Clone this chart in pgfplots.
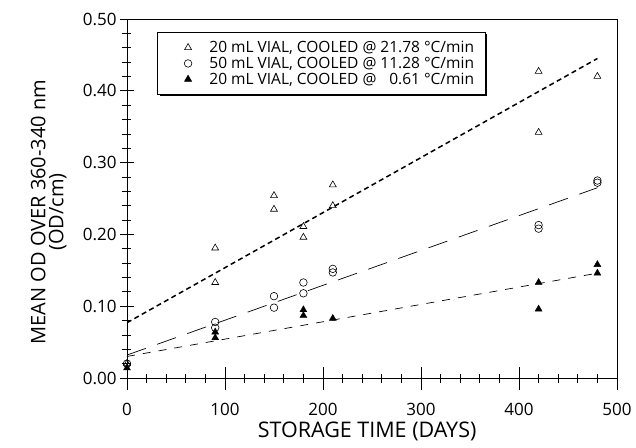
\documentclass[border=0pt]{standalone}
\usepackage{fontspec}
\setmainfont{Open Sans}
\usepackage{pgfplots}
\pgfplotsset{compat=1.18}
\usetikzlibrary{shadows}
\pgfplotsset{myleg/.style={legend image code/.code={\path (0pt,0pt) (25pt,0pt); \draw[##1] plot coordinates {(21pt,0pt)};}}}
\begin{document}
\begin{tikzpicture}
\begin{axis}[
  scale only axis, width=490pt, height=359pt,
  xmin=0, xmax=500, ymin=0, ymax=0.5,
  xtick={0,100,...,500}, ytick={0,0.1,...,0.5},
  minor x tick num=4, minor y tick num=4,
  tick align=center,
  xtick pos=bottom, ytick pos=left,
  major tick length=14pt, minor tick length=9pt,
  xtick style={/pgfplots/major tick length=23pt},
  tick style={black, line width=0.7pt},
  axis line style={line width=0.8pt},
  /pgf/number format/assume math mode=true,
  yticklabel style={/pgf/number format/fixed, /pgf/number format/fixed zerofill, /pgf/number format/precision=2},
  ticklabel style={font=\fontsize{17}{19}\selectfont},
  xticklabel style={yshift=-15pt},
  scaled y ticks=false,
  xlabel={STORAGE TIME (DAYS)},
  ylabel={MEAN OD OVER 360-340 nm\\(OD/cm)},
  xlabel style={font=\fontsize{21.5}{22}\selectfont, at={(axis description cs:0.49,-0.15)}, anchor=center},
  ylabel style={font=\fontsize{20}{18}\selectfont, at={(axis description cs:-0.16,0.462)}, anchor=center, align=center},
  legend style={at={(rel axis cs:0.062,0.963)}, anchor=north west, draw=black, line width=0.7pt,
    fill=white, font=\fontsize{15.5}{16}\selectfont, row sep=-1pt,
    inner xsep=9pt, inner ysep=6.5pt,
    drop shadow={shadow xshift=1.8pt, shadow yshift=-1.8pt, fill=black, opacity=1},
    legend cell align=left},
]
% open triangles: 20 mL vial, 21.78 C/min
\addplot[only marks, mark=triangle, mark size=4pt, mark options={line width=0.6pt, black}, myleg] coordinates {
(0,0.020) (90,0.181) (90,0.133) (150,0.254) (150,0.235) (180,0.211) (180,0.196)
(210,0.269) (210,0.240) (420,0.427) (420,0.342) (480,0.420)};
\addlegendentry{\rule{15pt}{0pt}20 mL VIAL, COOLED @ 21.78 °C/min}
% open circles: 50 mL vial, 11.28 C/min
\addplot[only marks, mark=o, mark size=3.8pt, mark options={line width=0.6pt, black}, myleg] coordinates {
(0,0.020) (90,0.078) (90,0.070) (150,0.114) (150,0.098) (180,0.133) (180,0.118)
(210,0.152) (210,0.147) (420,0.213) (420,0.208) (480,0.275) (480,0.272)};
\addlegendentry{\rule{15pt}{0pt}50 mL VIAL, COOLED @ 11.28 °C/min}
% filled triangles: 20 mL vial, 0.61 C/min
\addplot[only marks, mark=triangle*, mark size=4pt, mark options={black, fill=black}, myleg] coordinates {
(0,0.014) (90,0.064) (90,0.056) (180,0.095) (180,0.087) (210,0.083)
(420,0.133) (420,0.096) (480,0.158) (480,0.146)};
\addlegendentry{\rule{15pt}{0pt}20 mL VIAL, COOLED @ \hphantom{2}0.61 °C/min}
% fit lines
\addplot[black, line width=1.5pt, dash pattern=on 5pt off 3.5pt, forget plot] coordinates {(0,0.077) (480,0.445)};
\addplot[black, line width=0.7pt, dash pattern=on 20pt off 12pt, forget plot] coordinates {(0,0.032) (480,0.265)};
\addplot[black, line width=0.7pt, dash pattern=on 8pt off 8pt, forget plot] coordinates {(0,0.030) (480,0.146)};
\end{axis}
\pgfresetboundingbox
\useasboundingbox (-127pt,-69pt) rectangle (509pt,378pt);
\end{tikzpicture}
\end{document}
